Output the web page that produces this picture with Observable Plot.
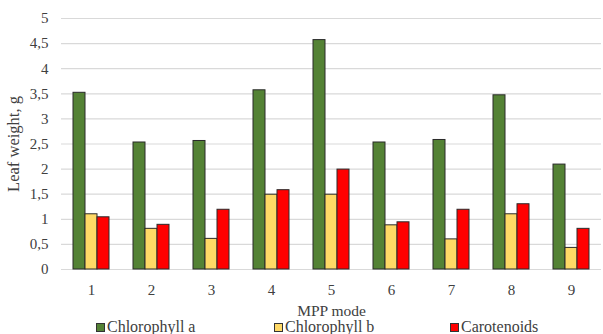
<!DOCTYPE html>
<html>
<head>
<meta charset="utf-8">
<script src="https://cdn.jsdelivr.net/npm/d3@7"></script>
<script src="https://cdn.jsdelivr.net/npm/@observablehq/plot@0.6"></script>
<style>
  html, body { margin: 0; padding: 0; background: #fff; }
  #chart { width: 603px; height: 318px; }
  #legend { position: relative; width: 603px; height: 16px; font-family: "Liberation Serif", "Times New Roman", Tinos, "DejaVu Serif", serif; font-size: 16px; line-height: 18px; color: #404040; }
  .item { position: absolute; top: 0px; display: flex; align-items: center; white-space: nowrap; }
  .sw { width: 7px; height: 7px; border: 1px solid #333; margin-right: 2px; }
</style>
</head>
<body>
<div id="chart"></div>
<div id="legend"></div>
<script>
const modes = ["1", "2", "3", "4", "5", "6", "7", "8", "9"];
const series = ["Chlorophyll a", "Chlorophyll b", "Carotenoids"];
const chlA = [3.52, 2.53, 2.56, 3.57, 4.57, 2.53, 2.58, 3.47, 2.09];
const chlB = [1.10, 0.81, 0.61, 1.49, 1.49, 0.88, 0.60, 1.10, 0.43];
const carot = [1.04, 0.89, 1.19, 1.58, 1.99, 0.94, 1.19, 1.30, 0.81];
const yTicks = [0, 0.5, 1, 1.5, 2, 2.5, 3, 3.5, 4, 4.5, 5];
const colors = ["#548235", "#FFD966", "#FF0000"];

const valuesBySeries = [chlA, chlB, carot];
const data = [];
modes.forEach((m, i) => {
  series.forEach((s, j) => data.push({mode: m, series: s, value: valuesBySeries[j][i]}));
});

const fmt = d => String(d).replace(".", ",");
const serifFont = "'Liberation Serif', 'Times New Roman', Tinos, 'DejaVu Serif', serif";

const chart = Plot.plot({
  width: 603,
  height: 318,
  marginLeft: 61,
  marginRight: 2,
  marginTop: 18,
  marginBottom: 49,
  style: {fontFamily: serifFont, fontSize: "15px", color: "#404040", background: "#fff"},
  fx: {domain: modes, padding: 0},
  x: {domain: series, axis: null, paddingInner: 0, paddingOuter: 1},
  y: {domain: [0, 5]},
  color: {domain: series, range: colors},
  marks: [
    Plot.gridY(yTicks, {stroke: "#d9d9d9", strokeOpacity: 1, strokeWidth: 1.2}),
    Plot.axisY(yTicks, {tickFormat: fmt, tickSize: 0, tickPadding: 13, label: null, fill: "#404040", fontFamily: serifFont}),
    Plot.axisY({ticks: [], tickSize: 0, label: "Leaf weight, g", labelAnchor: "center", labelOffset: 54, labelArrow: "none", fill: "#404040", fontFamily: serifFont, fontSize: "16.5px"}),
    Plot.axisFx({anchor: "bottom", tickSize: 0, tickPadding: 15, label: null, fill: "#404040", fontFamily: serifFont}),
    Plot.axisFx({anchor: "bottom", ticks: [], tickSize: 0, label: "MPP mode", labelAnchor: "center", labelOffset: 46, labelArrow: "none", fill: "#404040", fontFamily: serifFont, fontSize: "15.5px"}),
    Plot.barY(data, {fx: "mode", x: "series", y: "value", fill: "series", stroke: "#2a2a2a", strokeWidth: 1})
  ]
});
document.getElementById("chart").appendChild(chart);

const legend = document.getElementById("legend");
const lefts = [96, 274, 450];
series.forEach((s, j) => {
  const it = document.createElement("div");
  it.className = "item";
  it.style.left = lefts[j] + "px";
  const sw = document.createElement("span");
  sw.className = "sw";
  sw.style.background = colors[j];
  const tx = document.createElement("span");
  tx.textContent = s;
  it.appendChild(sw);
  it.appendChild(tx);
  legend.appendChild(it);
});
</script>
</body>
</html>
